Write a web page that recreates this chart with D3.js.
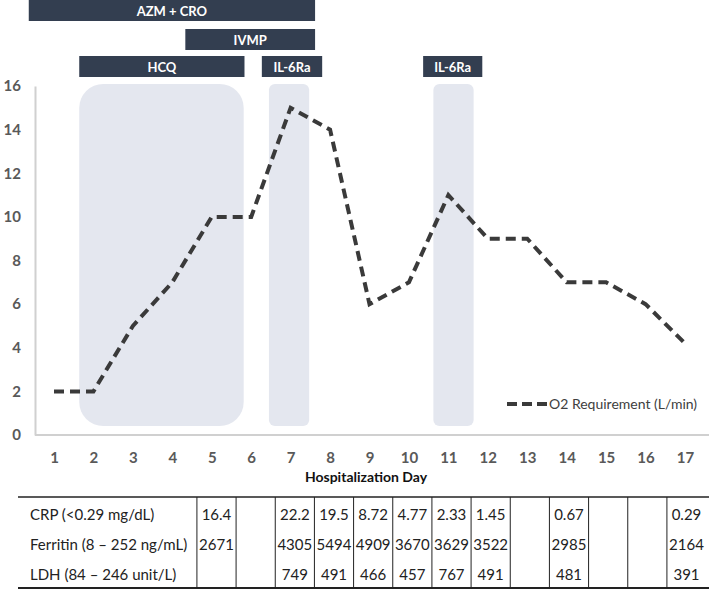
<!DOCTYPE html>
<html>
<head>
<meta charset="utf-8">
<script src="https://cdn.jsdelivr.net/npm/d3@7"></script>
<style>
  body { margin: 0; background: #fff; }
  svg { display: block; font-family: Lato, "Open Sans", sans-serif; }
</style>
</head>
<body>
<script>
var width = 709
var height = 589

// data
var days = d3.range(1, 18)
var o2 = [2, 2, 5, 7, 10, 10, 15, 14, 6, 7, 11, 9, 9, 7, 7, 6, 4.2]
var yTicks = [0, 2, 4, 6, 8, 10, 12, 14, 16]

// treatment bars (start/end in day units) and rows
var drugs = ["AZM + CRO", "IVMP", "HCQ", "IL-6Ra", "IL-6Ra"]
var drugStart = [0.36, 4.33, 1.64, 6.27, 10.36]
var drugEnd = [7.62, 7.62, 5.83, 7.8, 11.86]
var drugRow = [0, 1, 2, 2, 2]

// shaded periods
var shadeStart = [1.64, 6.45, 10.62]
var shadeEnd = [5.81, 7.47, 11.64]
var shadeRadius = [24, 6, 6]

// lab table
var labNames = ["CRP (<0.29 mg/dL)", "Ferritin (8 \u2013 252 ng/mL)", "LDH (84 \u2013 246 unit/L)"]
var tableDays = [5, 6, 7, 8, 9, 10, 11, 12, 13, 14, 15, 16, 17]
var crp = ["16.4", "", "22.2", "19.5", "8.72", "4.77", "2.33", "1.45", "", "0.67", "", "", "0.29"]
var ferritin = ["2671", "", "4305", "5494", "4909", "3670", "3629", "3522", "", "2985", "", "", "2164"]
var ldh = ["", "", "749", "491", "466", "457", "767", "491", "", "481", "", "", "391"]
var labRows = [crp, ferritin, ldh]

var svg = d3.select("body").append("svg")
  .attr("width", width)
  .attr("height", height)

var x = d3.scaleLinear().domain([1, 17]).range([54, 685])
var y = d3.scaleLinear().domain([0, 16]).range([435, 86])

var dark = "#333e50"

// shaded periods
svg.selectAll("rect.shade")
  .data(shadeStart)
  .enter().append("rect")
  .attr("class", "shade")
  .attr("x", function(d){ return x(d) })
  .attr("y", 84)
  .attr("width", function(d, i){ return x(shadeEnd[i]) - x(d) })
  .attr("height", 342)
  .attr("rx", function(d, i){ return shadeRadius[i] })
  .attr("fill", "#e4e7ef")

// treatment bars
var rowY = [0, 29, 56]
var bar = svg.selectAll("g.drug")
  .data(drugs)
  .enter().append("g")
  .attr("class", "drug")

bar.append("rect")
  .attr("x", function(d, i){ return x(drugStart[i]) })
  .attr("y", function(d, i){ return rowY[drugRow[i]] })
  .attr("width", function(d, i){ return x(drugEnd[i]) - x(drugStart[i]) })
  .attr("height", 21)
  .attr("fill", dark)

bar.append("text")
  .attr("x", function(d, i){ return (x(drugStart[i]) + x(drugEnd[i])) / 2 })
  .attr("y", function(d, i){ return rowY[drugRow[i]] + 15.5 })
  .attr("text-anchor", "middle")
  .attr("fill", "#fff")
  .attr("font-weight", "bold")
  .attr("font-size", 13)
  .text(function(d){ return d })

// axes
var yAxis = svg.append("g")
  .attr("transform", "translate(35,0)")
  .call(d3.axisLeft(y).tickValues(yTicks).tickSize(0).tickPadding(14))
yAxis.select(".domain").attr("stroke", "#d0d0d0").attr("stroke-width", 2)
yAxis.selectAll("text")
  .attr("font-family", "Lato, sans-serif")
  .attr("font-size", 15)
  .attr("font-weight", "bold")
  .attr("fill", "#595959")

svg.append("line")
  .attr("x1", 35).attr("x2", width)
  .attr("y1", y(0)).attr("y2", y(0))
  .attr("stroke", "#d0d0d0")
  .attr("stroke-width", 2)

var xAxis = svg.append("g")
  .attr("transform", "translate(0," + y(0) + ")")
  .call(d3.axisBottom(x).tickValues(days).tickFormat(d3.format("d")).tickSize(0).tickPadding(17))
xAxis.select(".domain").remove()
xAxis.selectAll("text")
  .attr("font-family", "Lato, sans-serif")
  .attr("font-size", 15)
  .attr("font-weight", "bold")
  .attr("fill", "#595959")

svg.append("text")
  .attr("x", 366)
  .attr("y", 482)
  .attr("text-anchor", "middle")
  .attr("font-size", 14)
  .attr("font-weight", "bold")
  .attr("fill", "#111")
  .text("Hospitalization Day")

// O2 line
var line = d3.line()
  .x(function(d, i){ return x(days[i]) })
  .y(function(d){ return y(d) })

svg.append("path")
  .datum(o2)
  .attr("d", line)
  .attr("fill", "none")
  .attr("stroke", "#3a3a3a")
  .attr("stroke-width", 4)
  .attr("stroke-dasharray", "10,6")

// legend
svg.append("line")
  .attr("x1", 507).attr("x2", 548)
  .attr("y1", 404).attr("y2", 404)
  .attr("stroke", "#3a3a3a")
  .attr("stroke-width", 4)
  .attr("stroke-dasharray", "10,5")
svg.append("text")
  .attr("x", 549)
  .attr("y", 409)
  .attr("font-size", 14)
  .attr("fill", "#404040")
  .text("O2 Requirement (L/min)")

// table
var tx = d3.scaleLinear().domain([5, 17]).range([216.5, 686.5])
var step = tx(6) - tx(5)
var rowTextY = [520, 550, 580]

svg.append("line").attr("x1", 18).attr("x2", width).attr("y1", 497).attr("y2", 497)
  .attr("stroke", "#222").attr("stroke-width", 1.5)
svg.append("line").attr("x1", 18).attr("x2", width).attr("y1", 588).attr("y2", 588)
  .attr("stroke", "#222").attr("stroke-width", 2)

svg.selectAll("line.col")
  .data(tableDays)
  .enter().append("line")
  .attr("class", "col")
  .attr("x1", function(d){ return tx(d) - step / 2 })
  .attr("x2", function(d){ return tx(d) - step / 2 })
  .attr("y1", 497).attr("y2", 588)
  .attr("stroke", "#222").attr("stroke-width", 1)

svg.selectAll("text.lab")
  .data(labNames)
  .enter().append("text")
  .attr("class", "lab")
  .attr("x", 30)
  .attr("y", function(d, i){ return rowTextY[i] })
  .attr("font-size", 15)
  .attr("fill", "#222")
  .text(function(d){ return d })

labRows.forEach(function(row, r){
  svg.selectAll("text.v" + r)
    .data(row)
    .enter().append("text")
    .attr("class", "v" + r)
    .attr("x", function(d, i){ return tx(tableDays[i]) })
    .attr("y", rowTextY[r])
    .attr("text-anchor", "middle")
    .attr("font-size", 15)
    .attr("fill", "#222")
    .text(function(d){ return d })
})
</script>
</body>
</html>
